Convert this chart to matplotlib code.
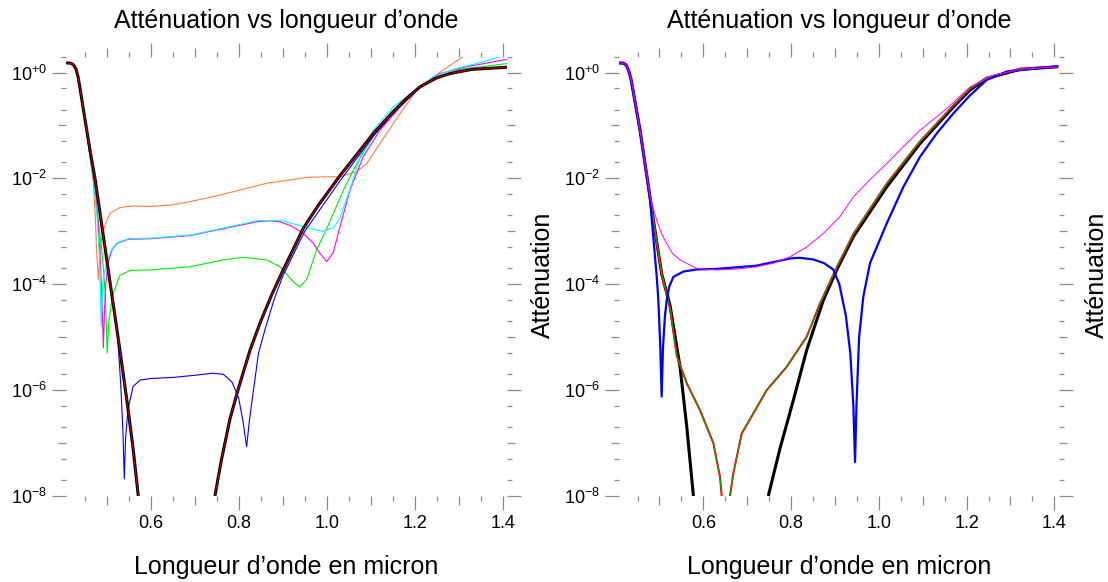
import numpy as np
import matplotlib
matplotlib.use("Agg")
import matplotlib.pyplot as plt
from matplotlib.ticker import FixedLocator, NullLocator, FixedFormatter

plt.rcParams['font.family'] = ['Liberation Sans', 'DejaVu Sans']
plt.rcParams['mathtext.fontset'] = 'custom'
plt.rcParams['mathtext.rm'] = 'Liberation Sans'
plt.rcParams['mathtext.it'] = 'Liberation Sans:italic'
plt.rcParams['mathtext.bf'] = 'Liberation Sans:bold'

# ---------------- data (wavelength in micron, log10 of attenuation) -------------
# Left panel
L_black_fall_x = [0.408, 0.415, 0.420, 0.425, 0.430, 0.435, 0.440, 0.450, 0.462, 0.4734, 0.490, 0.510, 0.530, 0.546, 0.560, 0.5718]
L_black_fall_y = [0.18, 0.18, 0.17, 0.14, 0.07, -0.08, -0.33, -0.85, -1.46, -2.0, -2.95, -4.1, -5.24, -6.2, -7.1, -8.0]
L_black_rise_x = [0.746, 0.76, 0.78, 0.80, 0.826, 0.85, 0.875, 0.901, 0.925, 0.947, 0.98, 1.03, 1.07, 1.106, 1.15, 1.18, 1.212, 1.25, 1.28, 1.33, 1.41]
L_black_rise_y = [-8.0, -7.35, -6.55, -5.95, -5.24, -4.7, -4.2, -3.73, -3.32, -2.94, -2.52, -1.95, -1.53, -1.15, -0.75, -0.5, -0.27, -0.1, -0.02, 0.06, 0.1]

L_orange_x = [0.408, 0.415, 0.42, 0.425, 0.43, 0.435, 0.44, 0.45, 0.46, 0.4696, 0.474, 0.477, 0.481, 0.4835, 0.487, 0.492, 0.4975, 0.5075, 0.53, 0.56, 0.60, 0.65, 0.689, 0.75, 0.803, 0.864, 0.917, 0.955, 1.0, 1.03, 1.068, 1.091, 1.121, 1.167, 1.205, 1.242, 1.31]
L_orange_y = [0.18, 0.18, 0.17, 0.14, 0.07, -0.09, -0.35, -0.88, -1.45, -2.09, -2.7, -3.35, -3.92, -3.55, -3.2, -3.0, -2.85, -2.66, -2.55, -2.52, -2.53, -2.5, -2.44, -2.33, -2.22, -2.09, -2.03, -1.98, -1.97, -1.97, -1.87, -1.72, -1.34, -0.77, -0.33, -0.08, 0.30]

L_cyan_x = [0.408, 0.415, 0.42, 0.425, 0.43, 0.435, 0.44, 0.45, 0.46, 0.47, 0.478, 0.484, 0.4875, 0.491, 0.495, 0.504, 0.512, 0.523, 0.549, 0.598, 0.689, 0.765, 0.841, 0.894, 0.947, 0.99, 1.015, 1.03, 1.053, 1.076, 1.106, 1.151, 1.197, 1.242, 1.295, 1.341, 1.395]
L_cyan_y = [0.18, 0.18, 0.17, 0.14, 0.07, -0.09, -0.35, -0.88, -1.45, -2.0, -2.7, -3.6, -4.8, -4.0, -3.75, -3.5, -3.33, -3.22, -3.14, -3.13, -3.07, -2.94, -2.8, -2.79, -2.91, -3.0, -2.93, -2.75, -2.2, -1.59, -1.09, -0.65, -0.36, -0.08, 0.08, 0.17, 0.30]

L_magenta_x = [0.408, 0.415, 0.42, 0.425, 0.43, 0.435, 0.44, 0.45, 0.46, 0.47, 0.48, 0.486, 0.49, 0.4925, 0.495, 0.498, 0.503, 0.512, 0.523, 0.549, 0.598, 0.689, 0.765, 0.841, 0.87, 0.894, 0.92, 0.947, 0.97, 0.985, 1.0, 1.015, 1.03, 1.053, 1.083, 1.121, 1.167, 1.212, 1.257, 1.318, 1.41]
L_magenta_y = [0.18, 0.18, 0.17, 0.14, 0.07, -0.09, -0.35, -0.88, -1.45, -2.0, -2.8, -3.6, -4.5, -5.2, -4.5, -4.0, -3.6, -3.35, -3.23, -3.15, -3.14, -3.08, -2.95, -2.82, -2.8, -2.82, -2.9, -3.04, -3.23, -3.42, -3.57, -3.4, -2.92, -2.22, -1.59, -1.09, -0.65, -0.27, -0.02, 0.11, 0.25]

L_green_x = [0.408, 0.415, 0.42, 0.425, 0.43, 0.435, 0.44, 0.45, 0.46, 0.47, 0.48, 0.49, 0.497, 0.501, 0.505, 0.51, 0.515, 0.53, 0.553, 0.598, 0.689, 0.765, 0.81, 0.864, 0.894, 0.924, 0.939, 0.955, 0.977, 1.0, 1.038, 1.068, 1.106, 1.151, 1.197, 1.242, 1.303, 1.41]
L_green_y = [0.18, 0.18, 0.17, 0.14, 0.07, -0.09, -0.35, -0.88, -1.45, -2.0, -2.7, -3.45, -4.2, -5.3, -4.7, -4.4, -4.17, -3.83, -3.74, -3.73, -3.67, -3.54, -3.49, -3.54, -3.67, -3.95, -4.05, -3.9, -3.35, -2.95, -2.22, -1.72, -1.21, -0.71, -0.39, -0.11, 0.06, 0.17]

L_blue_x = [0.408, 0.415, 0.42, 0.425, 0.43, 0.435, 0.44, 0.45, 0.462, 0.4734, 0.49, 0.51, 0.525, 0.532, 0.537, 0.540, 0.543, 0.548, 0.553, 0.560, 0.576, 0.60, 0.65, 0.70, 0.74, 0.765, 0.785, 0.80, 0.81, 0.818, 0.824, 0.832, 0.845, 0.86, 0.88, 0.90, 0.95, 1.03, 1.106, 1.15, 1.212, 1.25, 1.28, 1.33, 1.41]
L_blue_y = [0.18, 0.18, 0.17, 0.14, 0.07, -0.08, -0.33, -0.85, -1.46, -2.0, -2.95, -4.1, -5.0, -5.9, -6.8, -7.68, -6.9, -6.4, -6.19, -5.93, -5.81, -5.78, -5.76, -5.72, -5.68, -5.7, -5.85, -6.15, -6.6, -7.07, -6.6, -6.1, -5.3, -4.85, -4.3, -3.85, -3.0, -2.05, -1.2, -0.78, -0.28, -0.1, -0.02, 0.06, 0.1]

# Right panel
R_black_fall_x = [0.408, 0.415, 0.42, 0.425, 0.43, 0.435, 0.44, 0.4557, 0.4785, 0.49, 0.505, 0.5241, 0.5469, 0.5622, 0.5774]
R_black_fall_y = [0.18, 0.18, 0.17, 0.13, 0.03, -0.12, -0.35, -1.09, -2.35, -3.0, -3.8, -4.4, -5.56, -6.69, -8.0]
R_black_rise_x = [0.748, 0.7748, 0.8052, 0.8357, 0.8736, 0.904, 0.942, 1.018, 1.094, 1.17, 1.208, 1.246, 1.322, 1.409]
R_black_rise_y = [-8.0, -7.1, -6.19, -5.24, -4.30, -3.73, -3.10, -2.16, -1.34, -0.65, -0.33, -0.11, 0.06, 0.11]

R_green_x = [0.408, 0.415, 0.42, 0.425, 0.43, 0.435, 0.44, 0.4557, 0.4785, 0.49, 0.505, 0.5241, 0.5394, 0.5622, 0.5925, 0.6077, 0.6228, 0.638, 0.6418, 0.651, 0.6608, 0.6684, 0.6875, 0.714, 0.7445, 0.79, 0.8357, 0.866, 0.904, 0.942, 1.018, 1.094, 1.17, 1.208, 1.246, 1.322, 1.409]
R_green_y = [0.18, 0.18, 0.17, 0.13, 0.03, -0.12, -0.35, -1.09, -2.35, -3.0, -3.8, -4.45, -5.35, -5.87, -6.38, -6.69, -7.0, -7.64, -8.0, -9.0, -8.0, -7.57, -6.82, -6.44, -6.0, -5.56, -4.99, -4.36, -3.68, -3.05, -2.1, -1.3, -0.62, -0.3, -0.1, 0.07, 0.11]

R_magenta_x = [0.408, 0.415, 0.42, 0.425, 0.43, 0.435, 0.44, 0.4557, 0.4785, 0.4938, 0.505, 0.5166, 0.53, 0.5469, 0.585, 0.6306, 0.68, 0.7217, 0.76, 0.7976, 0.835, 0.8736, 0.9116, 0.9419, 0.98, 1.018, 1.056, 1.094, 1.155, 1.208, 1.261, 1.322, 1.409]
R_magenta_y = [0.18, 0.18, 0.17, 0.13, 0.03, -0.12, -0.35, -1.09, -2.35, -2.79, -3.05, -3.23, -3.42, -3.54, -3.70, -3.73, -3.71, -3.67, -3.6, -3.48, -3.3, -3.04, -2.72, -2.35, -2.02, -1.72, -1.4, -1.09, -0.68, -0.27, -0.05, 0.06, 0.11]

R_blue_x = [0.408, 0.415, 0.42, 0.425, 0.43, 0.435, 0.44, 0.4557, 0.4785, 0.4938, 0.4975, 0.502, 0.505, 0.508, 0.5125, 0.5166, 0.522, 0.5317, 0.5545, 0.585, 0.63, 0.72, 0.76, 0.80, 0.82, 0.85, 0.875, 0.896, 0.91, 0.925, 0.935, 0.942, 0.9458, 0.949, 0.955, 0.9647, 0.98, 1.018, 1.056, 1.094, 1.132, 1.17, 1.208, 1.246, 1.292, 1.409]
R_blue_y = [0.18, 0.18, 0.17, 0.13, 0.03, -0.12, -0.35, -1.09, -2.4, -3.86, -4.3, -5.2, -6.12, -5.2, -4.6, -4.3, -4.05, -3.86, -3.76, -3.72, -3.71, -3.65, -3.58, -3.51, -3.5, -3.53, -3.6, -3.72, -4.0, -4.6, -5.3, -6.3, -7.36, -6.3, -5.0, -4.23, -3.6, -2.85, -2.16, -1.59, -1.15, -0.77, -0.43, -0.14, 0.02, 0.12]

# axis ticks
x_major = [0.6, 0.8, 1.0, 1.2, 1.4]
x_major_labels = ['0.6', '0.8', '1.0', '1.2', '1.4']
x_medium = [0.5, 0.7, 0.9, 1.1, 1.3]
x_minor = [0.45, 0.55, 0.65, 0.75, 0.85, 0.95, 1.05, 1.15, 1.25, 1.35]
y_major = [1e0, 1e-2, 1e-4, 1e-6, 1e-8]
y_major_labels = [r'10$^{+0}$', r'10$^{-2}$', r'10$^{-4}$', r'10$^{-6}$', r'10$^{-8}$']
y_medium = [1e-1, 1e-3, 1e-5, 1e-7]
y_minor = [m * 10.0 ** k for k in range(-8, 1) for m in (2, 5)]

TITLE = 'Atténuation vs longueur d’onde'
XLABEL = 'Longueur d’onde en micron'
YLABEL = 'Atténuation'

XLIM = (0.408, 1.41)
YLIM = (1e-8, 2.0)

W, H = 1108, 582
fig = plt.figure(figsize=(W / 100, H / 100), dpi=100)

TICK = '#8c8c8c'

def make_axes(x0, x1, y0, y1):
    return fig.add_axes([x0 / W, 1 - y1 / H, (x1 - x0) / W, (y1 - y0) / H])

def style(ax):
    ax.set_yscale('log')
    ax.set_xlim(*XLIM)
    ax.set_ylim(*YLIM)
    for s in ax.spines.values():
        s.set_visible(False)
    ax.xaxis.set_major_locator(FixedLocator(x_major))
    ax.xaxis.set_major_formatter(FixedFormatter(x_major_labels))
    ax.xaxis.set_minor_locator(FixedLocator(x_minor))
    ax.yaxis.set_major_locator(FixedLocator(y_major))
    ax.yaxis.set_major_formatter(FixedFormatter(y_major_labels))
    ax.yaxis.set_minor_locator(FixedLocator(y_minor))
    ax.tick_params(which='both', direction='out', color=TICK, width=0.9,
                   top=True, right=True, labeltop=False, labelright=False,
                   labelsize=13, pad=3.5)
    ax.tick_params(which='major', length=10)
    ax.tick_params(which='minor', length=3.8)
    ax.tick_params(axis='x', which='minor', length=3.5)
    for side in ('bottom', 'top'):
        sec = ax.secondary_xaxis(side)
        sec.set_xticks(x_medium)
        sec.xaxis.set_minor_locator(NullLocator())
        sec.tick_params(length=6.5, color=TICK, width=0.9, labelbottom=False, labeltop=False)
        for s in sec.spines.values():
            s.set_visible(False)
    for side in ('left', 'right'):
        sec = ax.secondary_yaxis(side)
        sec.set_yticks(y_medium)
        sec.yaxis.set_minor_locator(NullLocator())
        sec.tick_params(which='both', length=6.0, color=TICK, width=0.9, labelleft=False, labelright=False)
        sec.yaxis.set_minor_locator(NullLocator())
        for s in sec.spines.values():
            s.set_visible(False)

def p(ax, xs, ys, color, lw, z):
    ax.plot(xs, 10.0 ** np.asarray(ys), color=color, lw=lw, zorder=z, solid_capstyle='butt')

# ---------------- left panel ----------------
axL = make_axes(66.2, 507.1, 56.6, 496.0)
style(axL)
p(axL, L_orange_x, L_orange_y, '#ff7f3f', 0.8, 2)
p(axL, L_green_x, L_green_y, '#00ee00', 0.8, 2.1)
p(axL, L_magenta_x, L_magenta_y, '#ff00ff', 0.8, 2.2)
p(axL, L_cyan_x, L_cyan_y, '#00ffff', 0.8, 2.3)
p(axL, L_blue_x, L_blue_y, '#0000ff', 0.8, 2.4)
p(axL, L_black_fall_x, L_black_fall_y, 'black', 2.2, 3)
p(axL, L_black_rise_x, L_black_rise_y, 'black', 2.2, 3)
p(axL, L_black_fall_x, L_black_fall_y, '#cc0000', 0.7, 3.1)
p(axL, L_black_rise_x, L_black_rise_y, '#cc0000', 0.7, 3.1)

# ---------------- right panel ----------------
axR = make_axes(619.1, 1058.7, 56.6, 496.0)
style(axR)
p(axR, R_black_fall_x, R_black_fall_y, 'black', 2.2, 2)
p(axR, R_black_rise_x, R_black_rise_y, 'black', 2.2, 2)
p(axR, R_green_x, R_green_y, '#ff0000', 1.5, 2.1)
p(axR, R_green_x, R_green_y, '#00aa00', 0.7, 2.2)
p(axR, R_blue_x, R_blue_y, '#0000ff', 1.6, 2.3)
p(axR, R_magenta_x, R_magenta_y, '#ff00ff', 0.7, 2.4)

# ---------------- texts ----------------
for ax in (axL, axR):
    pos = ax.get_position()
    cx = pos.x0 + pos.width / 2
    fig.text(cx, 1 - 28 / H, TITLE, ha='center', va='baseline', fontsize=18)
    fig.text(cx, 1 - 574 / H, XLABEL, ha='center', va='baseline', fontsize=18)

fig.text(543 / W, 1 - 275 / H, YLABEL, rotation=90, ha='center', va='center', fontsize=18)
fig.text(1097 / W, 1 - 275 / H, YLABEL, rotation=90, ha='center', va='center', fontsize=18)

fig.savefig('out.png', dpi=100)
